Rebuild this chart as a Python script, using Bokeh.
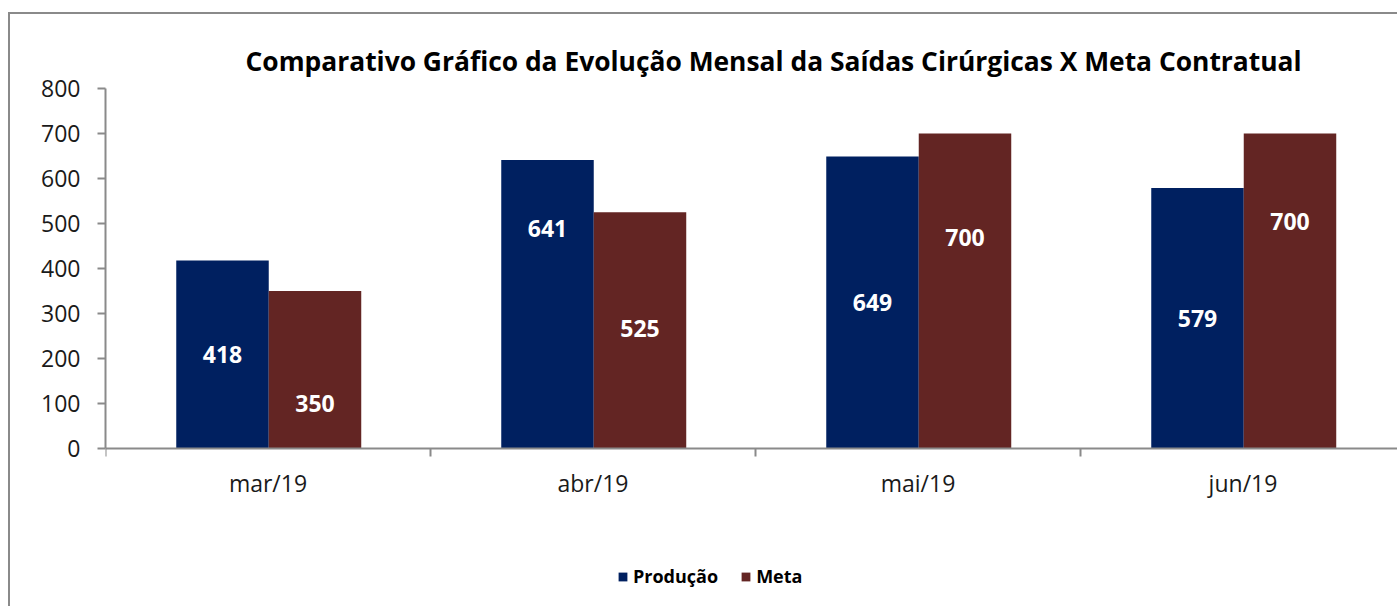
from bokeh.plotting import figure
from bokeh.models import ColumnDataSource, Range1d, FixedTicker, Legend, LegendItem
from bokeh.transform import dodge
from bokeh.embed import file_html
from bokeh.resources import INLINE
from bokeh.core.properties import value

# ---- data ----
months = ["mar/19", "abr/19", "mai/19", "jun/19"]
producao = [418, 641, 649, 579]
meta = [350, 525, 700, 700]
y_ticks = [0, 100, 200, 300, 400, 500, 600, 700, 800]
series_names = ["Produção", "Meta"]
title_text = "Comparativo Gráfico da Evolução Mensal da Saídas Cirúrgicas X Meta Contratual"

# label placement inside bars (fraction of bar height) - style only
prod_label_frac = [0.5, 0.763, 0.5, 0.5]
meta_label_frac = [0.286, 0.51, 0.67, 0.72]

FONT = "Open Sans"
C_PROD = "#002060"
C_META = "#632523"
AXIS_C = "#8a8a8a"
TXT_C = "#1a1a1a"

src = ColumnDataSource(dict(
    x=list(range(len(months))),
    producao=producao,
    meta=meta,
    prod_lbl=[str(v) for v in producao],
    meta_lbl=[str(v) for v in meta],
    prod_y=[v * f for v, f in zip(producao, prod_label_frac)],
    meta_y=[v * f for v, f in zip(meta, meta_label_frac)],
))

# frame: 105..1397 px wide, 88..606 px tall; 0.45 px per unit vertically
H = 606
Y_MAX = 800
Y_MIN = -(H - 448) / 0.45
p = figure(width=1397, height=H, output_backend="svg", toolbar_location=None,
           x_range=Range1d(0, 1292 / 325), y_range=Range1d(Y_MIN, Y_MAX),
           min_border_left=105, min_border_top=88, min_border_bottom=0,
           min_border_right=0)
p.styles = {
    "background": ("linear-gradient(#8a8a8a,#8a8a8a) 8px 12px / 2px 100% no-repeat, "
                   "linear-gradient(#8a8a8a,#8a8a8a) 8px 12px / 100% 2px no-repeat, white"),
}
p.background_fill_color = None
p.border_fill_color = None
p.outline_line_color = None
p.xgrid.visible = False
p.ygrid.visible = False

OFF_P, OFF_M, BW = 0.36, 0.6446, 0.2846
r1 = p.vbar(x=dodge("x", OFF_P), top="producao", width=BW, source=src,
            fill_color=C_PROD, line_color=None)
r2 = p.vbar(x=dodge("x", OFF_M), top="meta", width=BW, source=src,
            fill_color=C_META, line_color=None)

for off, ycol, tcol in [(OFF_P, "prod_y", "prod_lbl"), (OFF_M, "meta_y", "meta_lbl")]:
    p.text(x=dodge("x", off), y=ycol, text=tcol, source=src,
           text_color="white", text_font=value(FONT), text_font_style="bold",
           text_font_size="23px", text_align="center", text_baseline="middle")

# title
p.title.text = title_text
p.title.align = "left"
p.title.offset = 140
p.title.text_font = FONT
p.title.text_font_size = "26.4px"
p.title.text_font_style = "bold"
p.title.text_color = "black"
p.title.standoff = 20

# x axis, drawn at y = 0
xa = p.xaxis[0]
xa.fixed_location = 0
xa.ticker = FixedTicker(ticks=[i + 0.5 for i in range(len(months))],
                        minor_ticks=[float(i) for i in range(len(months))])
xa.major_label_overrides = {i + 0.5: m for i, m in enumerate(months)}
xa.major_tick_line_color = None
xa.major_tick_out = 0
xa.major_tick_in = 0
xa.minor_tick_out = 8
xa.minor_tick_in = 0
xa.minor_tick_line_color = AXIS_C
xa.minor_tick_line_width = 2
xa.axis_line_color = AXIS_C
xa.axis_line_width = 2
xa.major_label_text_font = FONT
xa.major_label_text_font_size = "23px"
xa.major_label_text_color = TXT_C
xa.major_label_standoff = 10

# y axis
ya = p.yaxis[0]
ya.bounds = (0, Y_MAX)
ya.ticker = FixedTicker(ticks=y_ticks, minor_ticks=[])
ya.major_tick_out = 8
ya.major_tick_in = 0
ya.major_tick_line_color = AXIS_C
ya.major_tick_line_width = 2
ya.axis_line_color = AXIS_C
ya.axis_line_width = 2
ya.major_label_text_font = FONT
ya.major_label_text_font_size = "23px"
ya.major_label_text_color = TXT_C
ya.major_label_standoff = 17

legend = Legend(items=[LegendItem(label=series_names[0], renderers=[r1]),
                       LegendItem(label=series_names[1], renderers=[r2])],
                orientation="horizontal", location=(512, 18),
                glyph_width=11, glyph_height=11, label_standoff=5, spacing=22,
                padding=0, margin=0, border_line_color=None,
                background_fill_alpha=0, label_text_font=FONT,
                label_text_font_style="bold", label_text_font_size="18px",
                label_text_color="black", label_height=18)
p.add_layout(legend, "center")

open("out.html", "w").write(file_html(p, INLINE))
